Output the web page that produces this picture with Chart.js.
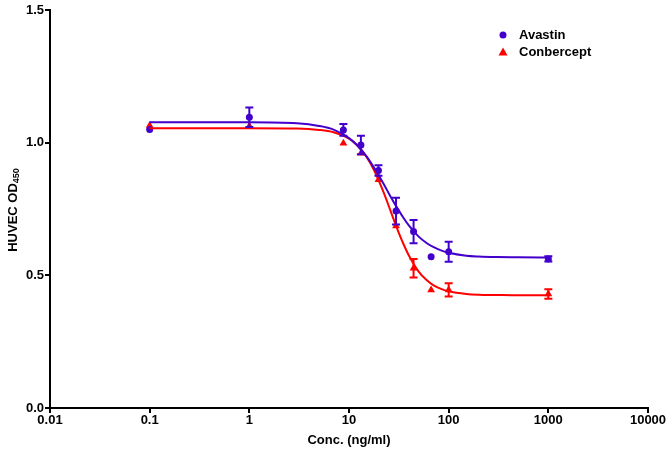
<!DOCTYPE html>
<html><head><meta charset="utf-8">
<script src="https://cdn.jsdelivr.net/npm/chart.js@4/dist/chart.umd.min.js"></script>
<style>html,body{margin:0;padding:0;background:#fff}#wrap{width:672px;height:452px}</style>
</head><body><div id="wrap"><canvas id="c" width="672" height="452"></canvas></div>
<script>
// Measured concentrations (ng/ml)
const conc = [0.1, 1, 8.78, 13.17, 19.75, 29.63, 44.44, 66.67, 100, 1000];
const avastin = [1.05, 1.096, 1.048, 0.991, 0.895, 0.742, 0.665, 0.570, 0.589, 0.562];
const avastinErr = [0, 0.037, 0.022, 0.035, 0.02, 0.05, 0.044, 0, 0.038, 0.01];
const conbercept = [1.065, 1.063, 0.998, 0.960, 0.860, 0.686, 0.527, 0.445, 0.445, 0.430];
const conberceptErr = [0, 0, 0, 0, 0, 0, 0.035, 0, 0.025, 0.018];
// Fitted curves
const curveX = [0.1, 1, 3, 5, 7, 10, 12, 15, 18, 22, 26, 30, 35, 40, 50, 60, 70, 85, 100, 150, 200, 300, 500, 1000];
const avastinFit = [1.077, 1.077, 1.073, 1.063, 1.049, 1.017, 0.991, 0.948, 0.903, 0.848, 0.798, 0.758, 0.718, 0.687, 0.646, 0.622, 0.607, 0.593, 0.585, 0.574, 0.571, 0.569, 0.568, 0.567];
const conberceptFit = [1.054, 1.054, 1.053, 1.048, 1.039, 1.015, 0.991, 0.946, 0.893, 0.817, 0.745, 0.682, 0.620, 0.574, 0.514, 0.482, 0.463, 0.448, 0.440, 0.430, 0.427, 0.426, 0.425, 0.425];
const xTicks = [0.01, 0.1, 1, 10, 100, 1000, 10000];
const xTickLabels = ['0.01', '0.1', '1', '10', '100', '1000', '10000'];
const yTicks = [0, 0.5, 1.0, 1.5];
const seriesNames = ['Avastin', 'Conbercept'];

const BLUE = '#4300CC', RED = '#FF0000';
const FONT = 'Liberation Sans, Arial, sans-serif';

const pts = (xs, ys) => xs.map((x, i) => ({x, y: ys[i]}));

const errPlugin = {
  id: 'errbars',
  afterDatasetsDraw(chart) {
    const ctx = chart.ctx, xs = chart.scales.x, ys = chart.scales.y;
    chart.data.datasets.forEach(ds => {
      if (!ds.errors) return;
      ctx.save();
      ctx.strokeStyle = ds.borderColor; ctx.lineWidth = 2;
      ds.data.forEach((p, i) => {
        const e = ds.errors[i]; if (!e) return;
        const px = xs.getPixelForValue(p.x);
        const y1 = ys.getPixelForValue(p.y + e), y2 = ys.getPixelForValue(p.y - e);
        ctx.beginPath();
        ctx.moveTo(px, y1); ctx.lineTo(px, y2);
        ctx.moveTo(px - 4, y1); ctx.lineTo(px + 4, y1);
        ctx.moveTo(px - 4, y2); ctx.lineTo(px + 4, y2);
        ctx.stroke();
      });
      ctx.restore();
    });
  }
};

const decoPlugin = {
  id: 'deco',
  afterDraw(chart) {
    const ctx = chart.ctx;
    // y axis title with subscript
    ctx.save();
    ctx.translate(13, 210);
    ctx.rotate(-Math.PI / 2);
    ctx.fillStyle = '#000';
    ctx.textBaseline = 'middle';
    ctx.font = 'bold 13px ' + FONT;
    const main = 'HUVEC OD';
    const mw = ctx.measureText(main).width;
    ctx.font = 'bold 9px ' + FONT;
    const sw = ctx.measureText('450').width;
    const start = -(mw + sw) / 2;
    ctx.font = 'bold 13px ' + FONT;
    ctx.textAlign = 'left';
    ctx.fillText(main, start, 0);
    ctx.font = 'bold 9px ' + FONT;
    ctx.fillText('450', start + mw, 4);
    ctx.restore();
    // legend
    ctx.save();
    ctx.font = 'bold 13px ' + FONT;
    ctx.textBaseline = 'middle';
    ctx.fillStyle = BLUE;
    ctx.beginPath(); ctx.arc(503, 35, 3.5, 0, Math.PI * 2); ctx.fill();
    ctx.fillStyle = RED;
    ctx.beginPath(); ctx.moveTo(503, 47.5); ctx.lineTo(507.5, 55.5); ctx.lineTo(498.5, 55.5); ctx.closePath(); ctx.fill();
    ctx.fillStyle = '#000';
    ctx.fillText(seriesNames[0], 519, 35);
    ctx.fillText(seriesNames[1], 519, 52);
    ctx.restore();
  }
};

new Chart(document.getElementById('c'), {
  type: 'scatter',
  data: {
    datasets: [
      {label: seriesNames[0] + ' fit', data: pts(curveX, avastinFit), showLine: true, borderColor: BLUE, borderWidth: 2, pointRadius: 0, cubicInterpolationMode: 'monotone', fill: false},
      {label: seriesNames[1] + ' fit', data: pts(curveX, conberceptFit), showLine: true, borderColor: RED, borderWidth: 2, pointRadius: 0, cubicInterpolationMode: 'monotone', fill: false},
      {label: seriesNames[0], data: pts(conc, avastin), errors: avastinErr, borderColor: BLUE, backgroundColor: BLUE, pointStyle: 'circle', pointRadius: 3.5, borderWidth: 0},
      {label: seriesNames[1], data: pts(conc, conbercept), errors: conberceptErr, borderColor: RED, backgroundColor: RED, pointStyle: 'triangle', pointRadius: 4.5, borderWidth: 0}
    ]
  },
  options: {
    responsive: false, animation: false, devicePixelRatio: 1,
    layout: {padding: {left: 0, right: 24, top: 10, bottom: 0}},
    plugins: {legend: {display: false}, tooltip: {enabled: false}},
    scales: {
      x: {
        type: 'logarithmic', min: 0.01, max: 10000,
        afterBuildTicks: s => { s.ticks = xTicks.map(v => ({value: v})); },
        afterFit: s => { s.height = 44; },
        ticks: {color: '#000', font: {family: FONT, size: 13, weight: 'bold'}, padding: 0, maxRotation: 0, autoSkip: false,
          callback: (v) => { const i = xTicks.indexOf(v); return i >= 0 ? xTickLabels[i] : ''; }},
        grid: {drawOnChartArea: false, drawTicks: true, tickLength: 5, color: '#000', lineWidth: 2},
        border: {display: true, color: '#000', width: 2},
        title: {display: true, text: 'Conc. (ng/ml)', color: '#000', font: {family: FONT, size: 13, weight: 'bold'}, padding: {top: 4, bottom: 4}}
      },
      y: {
        type: 'linear', min: 0, max: 1.5,
        afterBuildTicks: s => { s.ticks = yTicks.map(v => ({value: v})); },
        afterFit: s => { s.width = 50; },
        ticks: {color: '#000', font: {family: FONT, size: 13, weight: 'bold'}, padding: 1, callback: v => Number(v).toFixed(1)},
        grid: {drawOnChartArea: false, drawTicks: true, tickLength: 5, color: '#000', lineWidth: 2},
        border: {display: true, color: '#000', width: 2}
      }
    }
  },
  plugins: [errPlugin, decoPlugin]
});
</script></body></html>
